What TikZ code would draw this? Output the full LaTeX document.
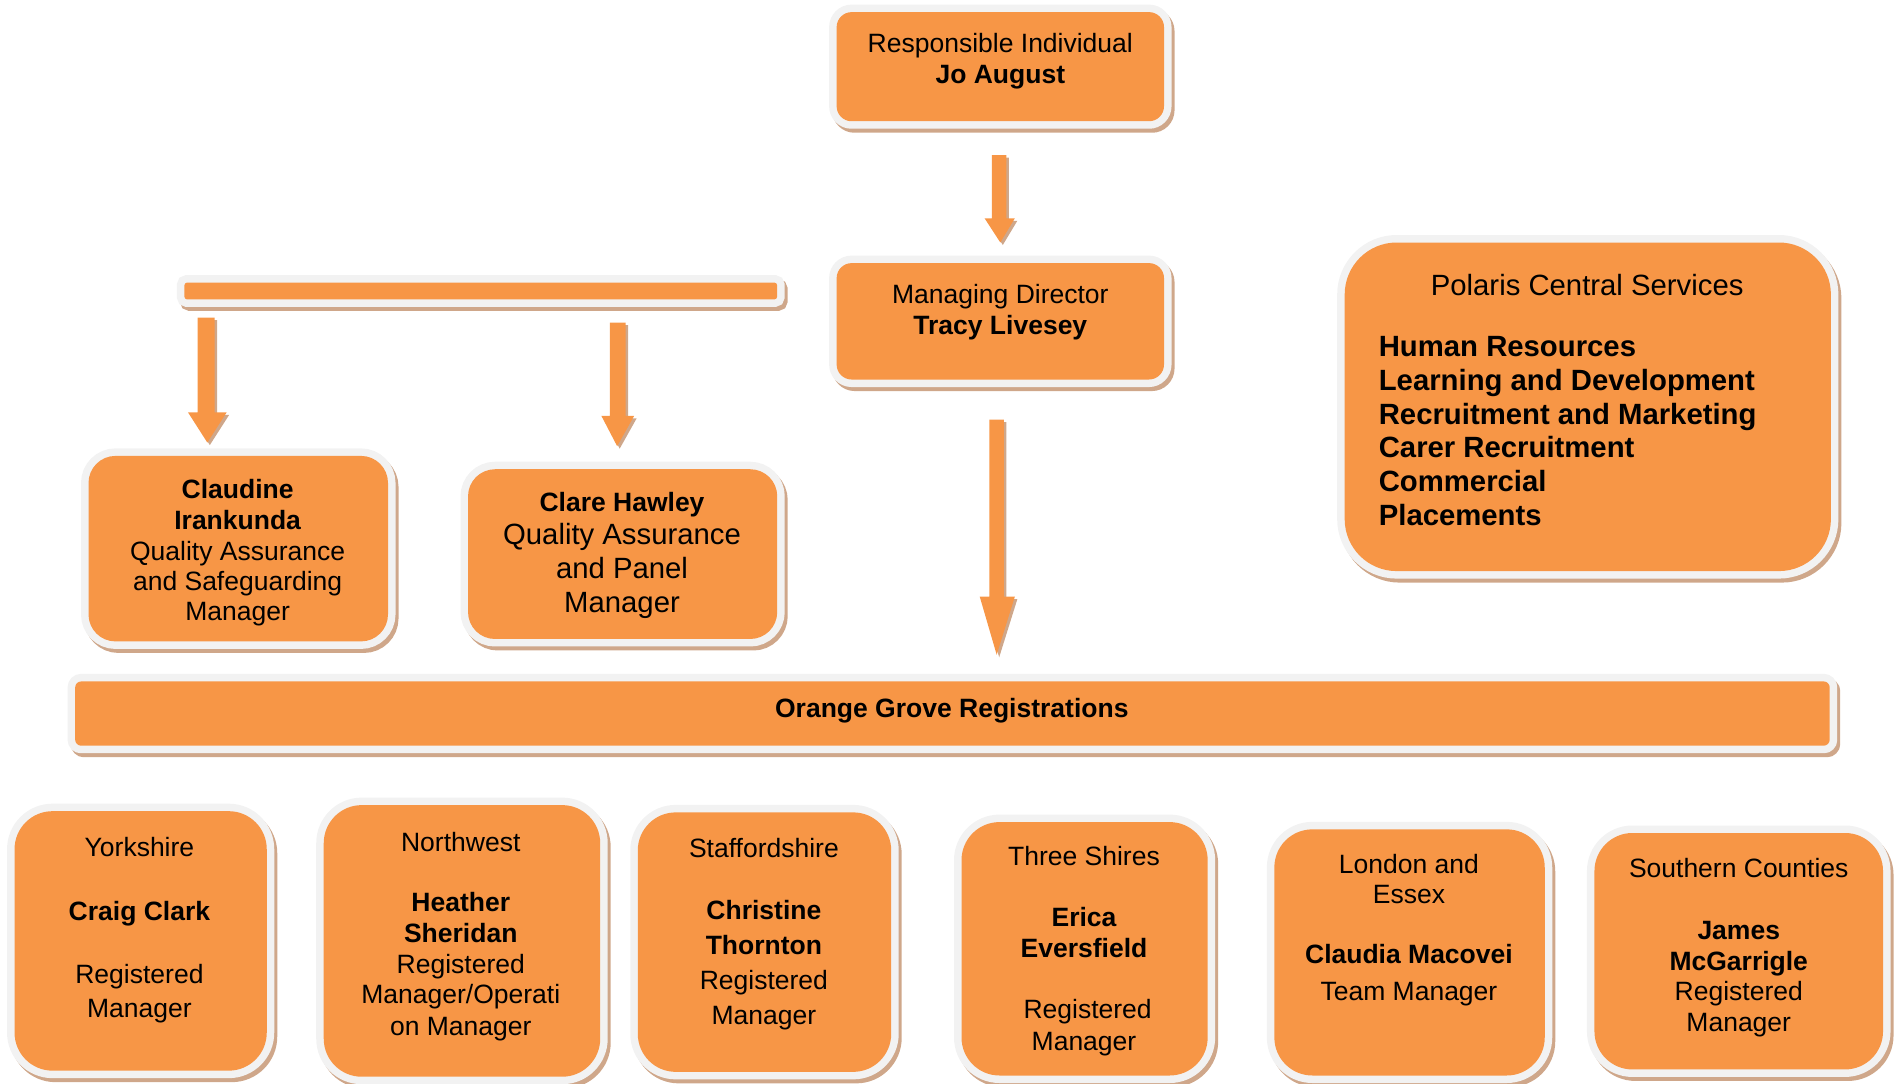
\documentclass[tikz,border=0pt]{standalone}
\usepackage{fontspec}
\setmainfont{Liberation Sans}
\usetikzlibrary{fit}
\definecolor{orng}{HTML}{F79646}
\definecolor{haloc}{HTML}{F2F2F2}
\definecolor{shadc}{HTML}{CFA78A}
\tikzset{
  obox/.style={fill=orng, inner sep=0pt, outer sep=0pt, rounded corners=#1,
    preaction={draw=shadc, fill=shadc, line width=15pt, transform canvas={xshift=3pt,yshift=-4pt}},
    preaction={draw=haloc, fill=haloc, line width=15pt}},
  barrow/.style={fill=orng, preaction={fill=shadc, transform canvas={xshift=2.5pt,yshift=-2.5pt}}},
  t/.style={anchor=base, inner sep=0pt, font=\fontsize{26.5}{31}\selectfont},
  tb/.style={anchor=base, inner sep=0pt, font=\fontsize{26.5}{31}\selectfont\bfseries},
  tl/.style={anchor=base, inner sep=0pt, font=\fontsize{29.3}{34}\selectfont},
  tlb/.style={anchor=base west, inner sep=0pt, font=\fontsize{29.3}{34}\selectfont\bfseries},
}
\begin{document}
\begin{tikzpicture}[x=1.2125pt, y=-1.2125pt]
\useasboundingbox (0,0) rectangle (1567,893.2);

% boxes
\node[obox=15pt, fit={(690,10)(960,100)}] (ri) {};
\node[obox=15pt, fit={(690,217)(960,313)}] (md) {};
\node[obox=3pt, fit={(152,233)(641,247)}] (bar) {};
\node[obox=27pt, fit={(73,376)(320,529)}] (cl) {};
\node[obox=27pt, fit={(386,387)(641,527)}] (ch) {};
\node[obox=52pt, fit={(1109,200)(1510,471)}] (pol) {};
\node[obox=6pt, fit={(62,562)(1509,615)}] (og) {};
\node[obox=38pt, fit={(12,669)(220,883)}] (yk) {};
\node[obox=38pt, fit={(267,664)(495,888)}] (nw) {};
\node[obox=38pt, fit={(526,670)(735,884)}] (st) {};
\node[obox=38pt, fit={(793,678)(996,887)}] (ts) {};
\node[obox=38pt, fit={(1051,684)(1274,887)}] (le) {};
\node[obox=38pt, fit={(1315,687)(1553,882)}] (sc) {};

% block arrows
\fill[barrow] (818,128) -- (830,128) -- (830,180) -- (837,180) -- (825,200) -- (812,180) -- (818,180) -- cycle;
\fill[barrow] (163,262) -- (177,262) -- (177,340) -- (187,340) -- (171,365) -- (155,340) -- (163,340) -- cycle;
\fill[barrow] (503,266) -- (516,266) -- (516,343) -- (523,343) -- (509,368) -- (496,343) -- (503,343) -- cycle;
\fill[barrow] (816,346) -- (828,346) -- (828,492) -- (837,492) -- (822,540) -- (808,492) -- (816,492) -- cycle;

% texts
\begin{scope}[shift={(0,1)}]
\node[t]  (ri1) at (825,42) {Responsible Individual};
\node[tb] (ri2) at (825,68) {Jo August};
\node[t]  (md1) at (825,249) {Managing Director};
\node[tb] (md2) at (825,275) {Tracy Livesey};

\node[tb] (cl1) at (196,410) {Claudine};
\node[tb] (cl2) at (196,436) {Irankunda};
\node[t]  (cl3) at (196,461) {Quality Assurance};
\node[t]  (cl4) at (196,486) {and Safeguarding};
\node[t]  (cl5) at (196,511) {Manager};

\node[tb] (ch1) at (513,421) {Clare Hawley};
\node[tl] (ch2) at (513,448) {Quality Assurance};
\node[tl] (ch3) at (513,476) {and Panel};
\node[tl] (ch4) at (513,504) {Manager};

\node[tl]  (p0) at (1309,243) {Polaris Central Services};
\node[tlb] (p1) at (1137,293) {Human Resources};
\node[tlb] (p2) at (1137,321) {Learning and Development};
\node[tlb] (p3) at (1137,349) {Recruitment and Marketing};
\node[tlb] (p4) at (1137,376) {Carer Recruitment};
\node[tlb] (p5) at (1137,404) {Commercial};
\node[tlb] (p6) at (1137,432) {Placements};

\node[tb] (og1) at (785,591) {Orange Grove Registrations};

\node[t]  (yk1) at (115,705) {Yorkshire};
\node[tb] (yk2) at (115,758) {Craig Clark};
\node[t]  (yk3) at (115,810) {Registered};
\node[t]  (yk4) at (115,838) {Manager};

\node[t]  (nw1) at (380,701) {Northwest};
\node[tb] (nw2) at (380,751) {Heather};
\node[tb] (nw3) at (380,776) {Sheridan};
\node[t]  (nw4) at (380,802) {Registered};
\node[t]  (nw5) at (380,827) {Manager/Operati};
\node[t]  (nw6) at (380,853) {on Manager};

\node[t]  (st1) at (630,706) {Staffordshire};
\node[tb] (st2) at (630,757) {Christine};
\node[tb] (st3) at (630,786) {Thornton};
\node[t]  (st4) at (630,815) {Registered};
\node[t]  (st5) at (630,844) {Manager};

\node[t]  (ts1) at (894,713) {Three Shires};
\node[tb] (ts2) at (894,763) {Erica};
\node[tb] (ts3) at (894,789) {Eversfield};
\node[t]  (ts4) at (897,839) {Registered};
\node[t]  (ts5) at (894,865) {Manager};

\node[t]  (le1) at (1162,719) {London and};
\node[t]  (le2) at (1162,744) {Essex};
\node[tb] (le3) at (1162,794) {Claudia Macovei};
\node[t]  (le4) at (1162,824) {Team Manager};

\node[t]  (sc1) at (1434,723) {Southern Counties};
\node[tb] (sc2) at (1434,774) {James};
\node[tb] (sc3) at (1434,799) {McGarrigle};
\node[t]  (sc4) at (1434,824) {Registered};
\node[t]  (sc5) at (1434,850) {Manager};
\end{scope}
\end{tikzpicture}
\end{document}
